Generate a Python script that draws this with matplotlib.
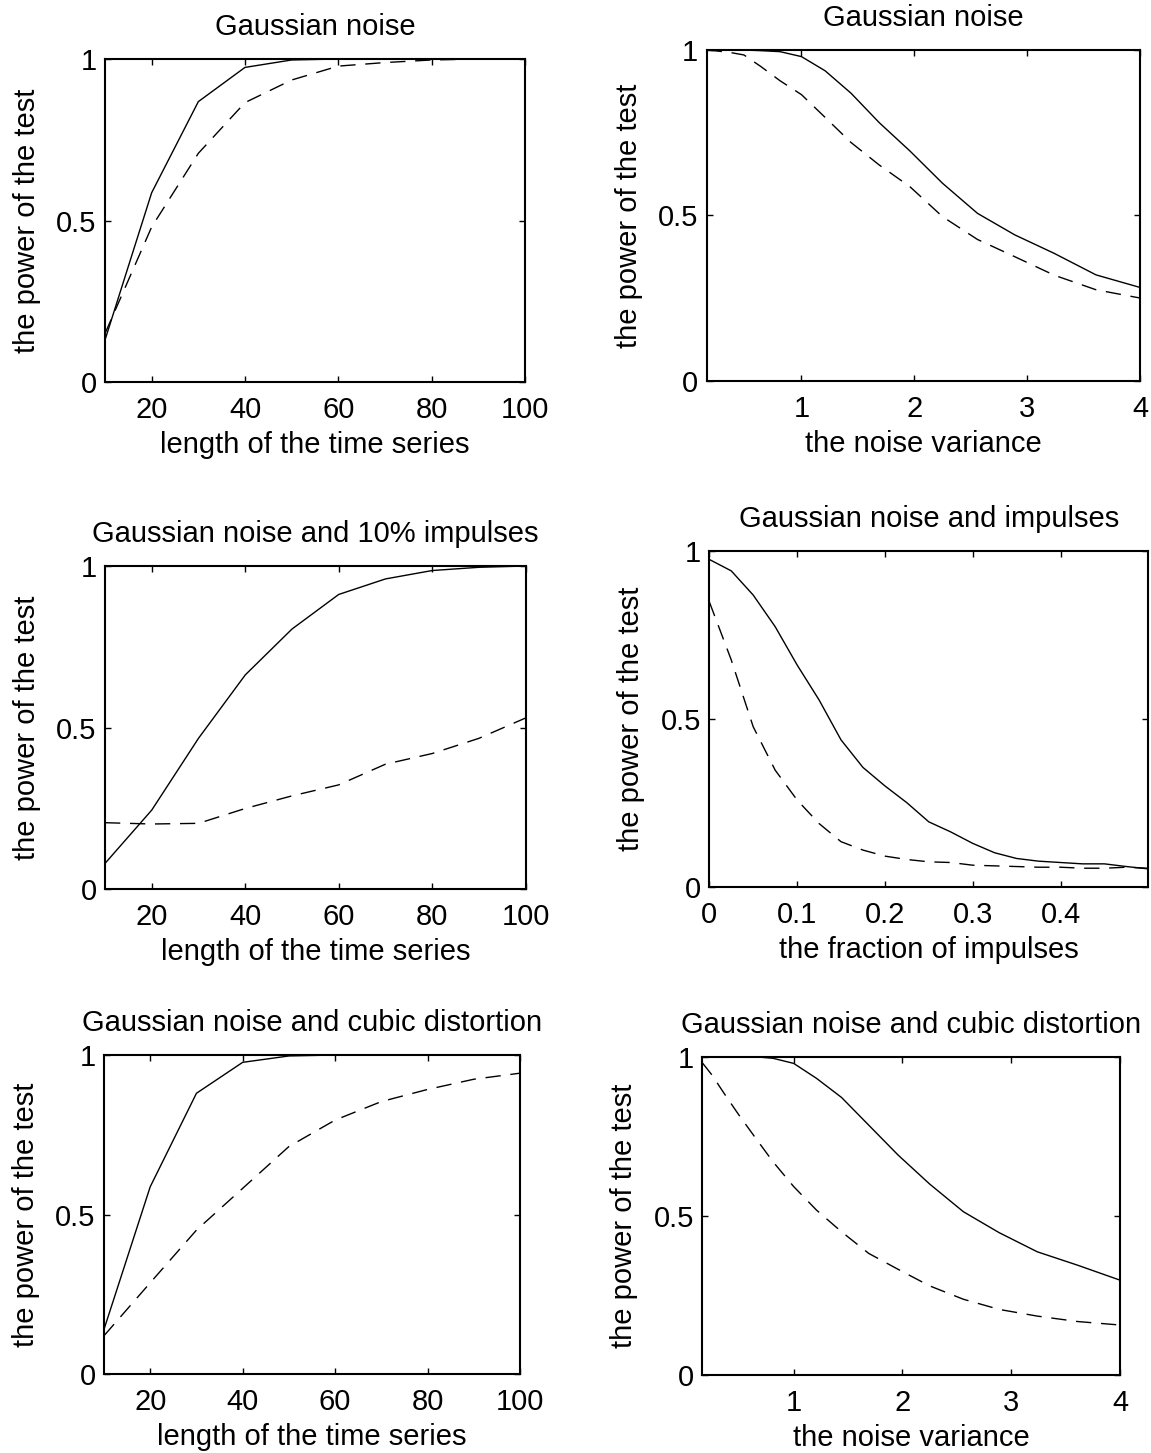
import matplotlib
matplotlib.use("Agg")
import matplotlib.pyplot as plt

plt.rcParams['font.family'] = ['Liberation Sans', 'DejaVu Sans']

# ---- data ----
length = [10, 20, 30, 40, 50, 60, 70, 80, 90, 100]
variance = [0.16, 0.25, 0.36, 0.49, 0.64, 0.81, 1.0, 1.21, 1.44, 1.69,
            1.96, 2.25, 2.56, 2.89, 3.24, 3.61, 4.0]
fraction = [0.0, 0.025, 0.05, 0.075, 0.1, 0.125, 0.15, 0.175, 0.2, 0.225,
            0.25, 0.275, 0.3, 0.325, 0.35, 0.375, 0.4, 0.425, 0.45, 0.475, 0.5]

p1_solid = [0.13, 0.586, 0.868, 0.974, 0.997, 1.0, 1.0, 1.0, 1.0, 1.0]
p1_dash = [0.15, 0.48, 0.708, 0.865, 0.935, 0.978, 0.989, 0.997, 1.0, 1.0]

p2_solid = [1.0, 1.0, 1.0, 1.0, 0.998, 0.995, 0.980, 0.937, 0.869, 0.78,
            0.695, 0.597, 0.506, 0.441, 0.385, 0.32, 0.282]
p2_dash = [1.0, 0.997, 0.993, 0.985, 0.95, 0.907, 0.865, 0.796, 0.72, 0.652,
           0.587, 0.496, 0.427, 0.375, 0.319, 0.275, 0.25]

p3_solid = [0.08, 0.245, 0.467, 0.663, 0.805, 0.912, 0.96, 0.986, 0.996, 1.0]
p3_dash = [0.206, 0.202, 0.204, 0.25, 0.289, 0.323, 0.387, 0.42, 0.467, 0.53]

p4_solid = [0.974, 0.94, 0.868, 0.774, 0.66, 0.556, 0.437, 0.355, 0.3, 0.25,
            0.193, 0.163, 0.129, 0.101, 0.084, 0.076, 0.072, 0.068, 0.068,
            0.06, 0.053]
p4_dash = [0.848, 0.675, 0.476, 0.347, 0.258, 0.188, 0.134, 0.109, 0.091,
           0.081, 0.074, 0.072, 0.064, 0.062, 0.06, 0.058, 0.058, 0.055,
           0.055, 0.058, 0.055]

p5_solid = [0.14, 0.587, 0.88, 0.977, 0.997, 1.0, 1.0, 1.0, 1.0, 1.0]
p5_dash = [0.12, 0.286, 0.451, 0.582, 0.713, 0.796, 0.854, 0.892, 0.924, 0.943]

p6_solid = [1.0, 1.0, 1.0, 1.0, 1.0, 0.995, 0.979, 0.932, 0.872, 0.785,
            0.691, 0.6, 0.513, 0.447, 0.387, 0.345, 0.298]
p6_dash = [0.981, 0.942, 0.885, 0.82, 0.749, 0.67, 0.592, 0.518, 0.45, 0.382,
           0.332, 0.28, 0.238, 0.206, 0.185, 0.168, 0.157]

titles = ["Gaussian noise", "Gaussian noise",
          "Gaussian noise and 10% impulses", "Gaussian noise and impulses",
          "Gaussian noise and cubic distortion", "Gaussian noise and cubic distortion"]
xlabels = ["length of the time series", "the noise variance",
           "length of the time series", "the fraction of impulses",
           "length of the time series", "the noise variance"]
ylabel = "the power of the test"
yticks = [0, 0.5, 1]
yticklabels = ["0", "0.5", "1"]
len_ticks = [20, 40, 60, 80, 100]
var_ticks = [1, 2, 3, 4]
frac_ticks = [0, 0.1, 0.2, 0.3, 0.4]
frac_ticklabels = ["0", "0.1", "0.2", "0.3", "0.4"]

W, H = 1151, 1453
fig = plt.figure(figsize=(W / 100, H / 100), dpi=100)

def rect(x0, y0, x1, y1):
    return [x0 / W, 1 - y1 / H, (x1 - x0) / W, (y1 - y0) / H]

rects = [rect(105, 59, 525, 382), rect(706.7, 50, 1140, 380.7),
         rect(105, 566, 525.7, 889.3), rect(709.3, 550.7, 1148.3, 886.7),
         rect(104, 1055, 520, 1374), rect(702.3, 1056.7, 1120, 1375)]

panels = [
    (length, p1_solid, p1_dash, (10, 100), len_ticks, None),
    (variance, p2_solid, p2_dash, (0.16, 4), var_ticks, None),
    (length, p3_solid, p3_dash, (10, 100), len_ticks, None),
    (fraction, p4_solid, p4_dash, (0, 0.5), frac_ticks, frac_ticklabels),
    (length, p5_solid, p5_dash, (10, 100), len_ticks, None),
    (variance, p6_solid, p6_dash, (0.16, 4), var_ticks, None),
]

FS = 21
for i, (x, s, d, xl, xt, xtl) in enumerate(panels):
    ax = fig.add_axes(rects[i])
    ax.plot(x, s, color='black', lw=1.0, solid_joinstyle='miter')
    ax.plot(x, d, color='black', lw=1.0, dashes=(11, 7))
    ax.set_xlim(*xl)
    ax.set_ylim(0, 1)
    ax.set_xticks(xt)
    if xtl is not None:
        ax.set_xticklabels(xtl)
    ax.set_yticks(yticks)
    ax.set_yticklabels(yticklabels)
    ax.tick_params(direction='in', length=4, width=1.0, top=True, right=True,
                   labelsize=FS)
    ax.tick_params(axis='x', pad=10)
    ax.tick_params(axis='y', pad=6)
    for sp in ax.spines.values():
        sp.set_linewidth(1.5)
    ax.set_title(titles[i], fontsize=FS, pad=17)
    ax.set_xlabel(xlabels[i], fontsize=FS, labelpad=5)
    ax.set_ylabel(ylabel, fontsize=FS, labelpad=11)

fig.savefig("out.png", dpi=100, facecolor='white')
